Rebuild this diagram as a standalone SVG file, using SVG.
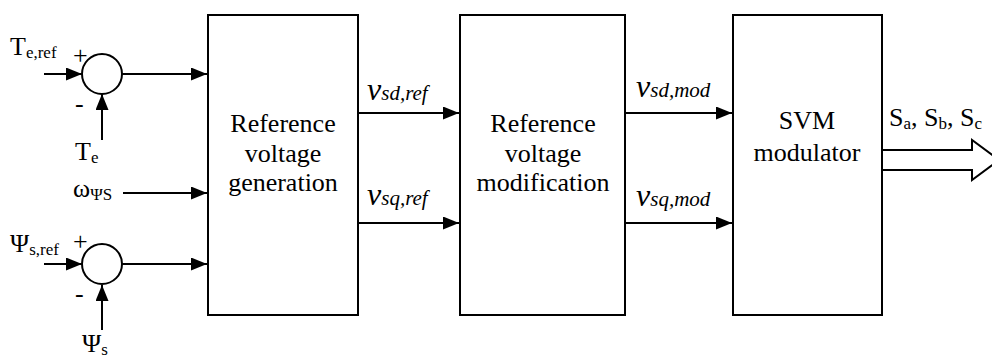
<svg xmlns="http://www.w3.org/2000/svg" width="992" height="358" viewBox="0 0 992 358">
<style>
.t{font-size:26px}
.c{text-anchor:middle}
.sub{font-size:17px}
.it{font-style:italic}
.box{fill:#fff;stroke:#000;stroke-width:2}
.sum{fill:#fff;stroke:#000;stroke-width:2}
.ln{stroke:#000;stroke-width:2;fill:none}
</style>
<defs>
<marker id="ah" viewBox="0 0 16 13" refX="16" refY="6.5" markerWidth="16" markerHeight="13" markerUnits="userSpaceOnUse" orient="auto">
<path d="M0,0 L16,6.5 L0,13 Z" fill="#000"/>
</marker>
</defs>
<rect width="992" height="358" fill="#fff"/>

<g id="connectors">
<line class="ln" x1="44" y1="74" x2="82" y2="74" marker-end="url(#ah)"/>
<line class="ln" x1="102" y1="140" x2="102" y2="94" marker-end="url(#ah)"/>
<line class="ln" x1="122" y1="74" x2="207" y2="74" marker-end="url(#ah)"/>
<line class="ln" x1="123" y1="193" x2="207" y2="193" marker-end="url(#ah)"/>
<line class="ln" x1="44" y1="264" x2="82" y2="264" marker-end="url(#ah)"/>
<line class="ln" x1="102" y1="330" x2="102" y2="285" marker-end="url(#ah)"/>
<line class="ln" x1="122" y1="264" x2="207" y2="264" marker-end="url(#ah)"/>
<line class="ln" x1="359" y1="113" x2="459" y2="113" marker-end="url(#ah)"/>
<line class="ln" x1="359" y1="223" x2="459" y2="223" marker-end="url(#ah)"/>
<line class="ln" x1="626" y1="113" x2="732" y2="113" marker-end="url(#ah)"/>
<line class="ln" x1="626" y1="223" x2="732" y2="223" marker-end="url(#ah)"/>
<polygon points="882,150 972,150 972,140 999,160 972,180 972,170 882,170" fill="#fff" stroke="#000" stroke-width="2"/>
</g>

<g id="sum1">
<circle class="sum" cx="102" cy="74" r="20"/>
<text class="t" x="73" y="64" font-family="Liberation Serif, serif">+</text>
<text class="t" x="75" y="112" font-family="Liberation Serif, serif">-</text>
</g>
<g id="sum2">
<circle class="sum" cx="102" cy="264" r="20"/>
<text class="t" x="73" y="250" font-family="Liberation Serif, serif">+</text>
<text class="t" x="75" y="302" font-family="Liberation Serif, serif">-</text>
</g>

<g id="labels-in">
<text class="t" x="10" y="55" font-family="Liberation Serif, serif">T<tspan class="sub" dy="3">e,ref</tspan></text>
<text class="t" x="75" y="160" font-family="Liberation Serif, serif">T<tspan class="sub" dy="3">e</tspan></text>
<text class="t" x="73" y="197" font-family="Liberation Serif, serif">ω<tspan class="sub" dy="3">ΨS</tspan></text>
<text class="t" x="10" y="252" font-family="Liberation Serif, serif">Ψ<tspan class="sub" dy="3">s,ref</tspan></text>
<text class="t" x="82" y="352" font-family="Liberation Serif, serif">Ψ<tspan class="sub" dy="3">s</tspan></text>
</g>

<g id="block1">
<rect class="box" x="208" y="15" width="150" height="300"/>
<text class="t c" x="283" y="132" font-family="Liberation Serif, serif">Reference</text>
<text class="t c" x="283" y="162" font-family="Liberation Serif, serif">voltage</text>
<text class="t c" x="283" y="191" font-family="Liberation Serif, serif">generation</text>
</g>

<g id="block2">
<rect class="box" x="460" y="15" width="165" height="300"/>
<text class="t c" x="543" y="132" font-family="Liberation Serif, serif">Reference</text>
<text class="t c" x="543" y="162" font-family="Liberation Serif, serif">voltage</text>
<text class="t c" x="543" y="191" font-family="Liberation Serif, serif">modification</text>
</g>

<g id="block3">
<rect class="box" x="733" y="15" width="149" height="300"/>
<text class="t c" x="807" y="129" font-family="Liberation Serif, serif">SVM</text>
<text class="t c" x="807" y="161" font-family="Liberation Serif, serif">modulator</text>
</g>

<g id="labels-mid">
<text class="it" x="367" y="100" font-size="32" font-family="Liberation Serif, serif">v<tspan font-size="21">sd,ref</tspan></text>
<text class="it" x="367" y="205" font-size="32" font-family="Liberation Serif, serif">v<tspan font-size="21">sq,ref</tspan></text>
<text class="it" x="636" y="97" font-size="32" font-family="Liberation Serif, serif">v<tspan font-size="21">sd,mod</tspan></text>
<text class="it" x="636" y="206" font-size="32" font-family="Liberation Serif, serif">v<tspan font-size="21">sq,mod</tspan></text>
<text class="t" x="889" y="126" font-family="Liberation Serif, serif">S<tspan class="sub" dy="3">a</tspan><tspan dy="-3">, S</tspan><tspan class="sub" dy="3">b</tspan><tspan dy="-3">, S</tspan><tspan class="sub" dy="3">c</tspan></text>
</g>
</svg>
